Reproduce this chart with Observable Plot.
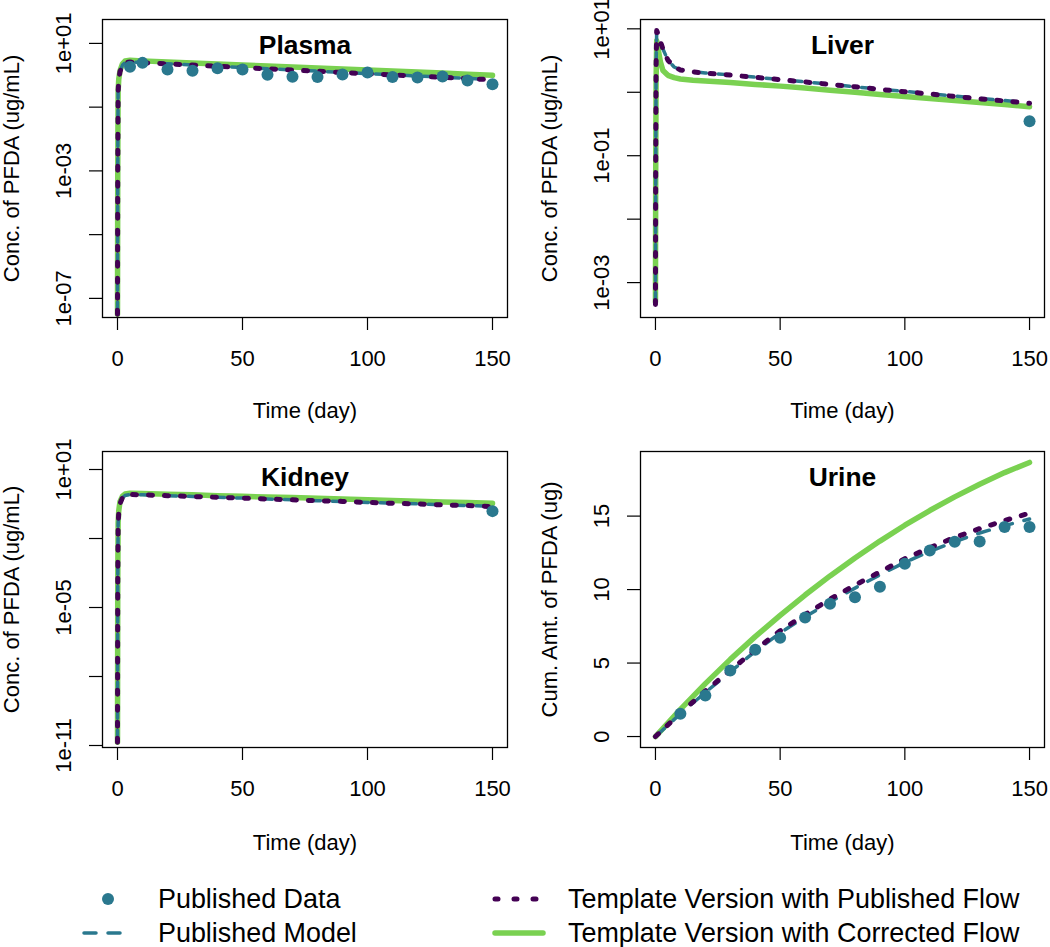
<!DOCTYPE html>
<html>
<head>
<meta charset="utf-8">
<script src="https://cdn.jsdelivr.net/npm/d3@7"></script>
<script src="https://cdn.jsdelivr.net/npm/@observablehq/plot@0.6"></script>
<style>
html, body { margin: 0; padding: 0; background: #fff; }
#wrap { position: relative; width: 1050px; height: 947px; background: #fff; font-family: "Liberation Sans", Arial, Helvetica, sans-serif; }
.panel { position: absolute; }
.panel svg { overflow: visible; }
#legend { position: absolute; left: 0; top: 860px; }
</style>
</head>
<body>
<div id="wrap"></div>
<script>
// ---------------- DATA ----------------
const xTicks = [0, 50, 100, 150];

// Plasma (ug/mL)
const plasmaTime = [0, 0.1, 0.25, 0.5, 1, 2, 3, 5, 10, 20, 30, 40, 50, 60, 70, 80, 90, 100, 110, 120, 130, 140, 150];
const plasmaPublishedModel = [3.2e-8, 1e-3, 0.3, 0.7, 1.3, 2.1, 2.5, 2.6, 2.5, 2.29, 2.1, 1.92, 1.76, 1.61, 1.47, 1.35, 1.23, 1.13, 1.04, 0.95, 0.87, 0.8, 0.73];
const plasmaPublishedFlow = [3.2e-8, 1e-3, 0.3, 0.7, 1.3, 2.1, 2.5, 2.6, 2.49, 2.28, 2.09, 1.91, 1.75, 1.6, 1.46, 1.34, 1.22, 1.12, 1.03, 0.94, 0.86, 0.79, 0.72];
const plasmaCorrectedFlow = [3.2e-8, 1e-3, 0.32, 0.75, 1.4, 2.3, 2.8, 2.95, 2.83, 2.63, 2.44, 2.27, 2.11, 1.96, 1.82, 1.69, 1.57, 1.46, 1.35, 1.26, 1.17, 1.08, 1.0];
const plasmaObsTime = [5, 10, 20, 30, 40, 50, 60, 70, 80, 90, 100, 110, 120, 130, 140, 150];
const plasmaObs = [1.85, 2.45, 1.52, 1.38, 1.66, 1.53, 1.03, 0.9, 0.89, 1.05, 1.22, 0.89, 0.85, 0.92, 0.68, 0.52];
const plasmaYTicks = [1e1, 1e-1, 1e-3, 1e-5, 1e-7];
const plasmaYLabelAt = [1e1, 1e-3, 1e-7];
const plasmaYLabels = ["1e+01", "1e-03", "1e-07"];

// Liver (ug/mL)
const liverTime = [0, 0.1, 0.25, 0.5, 1, 2, 3, 5, 7.5, 10, 15, 20, 30, 40, 50, 60, 70, 80, 90, 100, 110, 120, 130, 140, 150];
const liverPublishedModel = [4.5e-4, 0.05, 2.5, 9.4, 8.3, 6.3, 4.8, 3.2, 2.5, 2.26, 2.11, 2.01, 1.88, 1.73, 1.59, 1.46, 1.34, 1.22, 1.12, 1.03, 0.95, 0.87, 0.8, 0.74, 0.68];
const liverPublishedFlow = [4.5e-4, 0.05, 2.5, 9.4, 8.3, 6.3, 4.8, 3.2, 2.5, 2.25, 2.1, 2.0, 1.87, 1.72, 1.58, 1.45, 1.33, 1.22, 1.11, 1.02, 0.94, 0.86, 0.79, 0.73, 0.67];
const liverCorrectedFlow = [5e-4, 0.05, 1.5, 6.5, 5.0, 3.0, 2.2, 1.85, 1.7, 1.62, 1.55, 1.5, 1.42, 1.33, 1.25, 1.17, 1.08, 1.0, 0.92, 0.86, 0.8, 0.74, 0.69, 0.64, 0.59];
const liverObsTime = [150];
const liverObs = [0.35];
const liverYTicks = [1e1, 1e0, 1e-1, 1e-2, 1e-3];
const liverYLabelAt = [1e1, 1e-1, 1e-3];
const liverYLabels = ["1e+01", "1e-01", "1e-03"];

// Kidney (ug/mL)
const kidneyTime = [0, 0.1, 0.25, 0.5, 1, 2, 3, 5, 10, 20, 30, 40, 50, 60, 70, 80, 90, 100, 110, 120, 130, 140, 150];
const kidneyPublishedModel = [1.4e-11, 1e-4, 0.04, 0.13, 0.33, 0.6, 0.74, 0.82, 0.79, 0.73, 0.67, 0.62, 0.57, 0.52, 0.48, 0.44, 0.41, 0.37, 0.34, 0.32, 0.29, 0.27, 0.25];
const kidneyPublishedFlow = [1.4e-11, 1e-4, 0.04, 0.13, 0.33, 0.6, 0.74, 0.82, 0.79, 0.73, 0.67, 0.62, 0.57, 0.52, 0.48, 0.44, 0.41, 0.37, 0.34, 0.32, 0.29, 0.27, 0.245];
const kidneyCorrectedFlow = [1.4e-11, 1e-4, 0.05, 0.16, 0.4, 0.7, 0.86, 0.93, 0.9, 0.84, 0.79, 0.73, 0.68, 0.64, 0.6, 0.56, 0.52, 0.49, 0.45, 0.42, 0.39, 0.37, 0.34];
const kidneyObsTime = [150];
const kidneyObs = [0.155];
const kidneyYTicks = [1e1, 1e-2, 1e-5, 1e-8, 1e-11];
const kidneyYLabelAt = [1e1, 1e-5, 1e-11];
const kidneyYLabels = ["1e+01", "1e-05", "1e-11"];

// Urine (cumulative ug)
const urineTime = [0, 10, 20, 30, 40, 50, 60, 70, 80, 90, 100, 110, 120, 130, 140, 150];
const urinePublishedModel = [0, 1.55, 3.0, 4.4, 5.8, 7.05, 8.15, 9.15, 10.1, 11.0, 11.85, 12.6, 13.25, 13.85, 14.35, 14.8];
const urinePublishedFlow = [0, 1.6, 3.1, 4.5, 5.9, 7.2, 8.3, 9.35, 10.3, 11.2, 12.1, 12.85, 13.55, 14.15, 14.7, 15.2];
const urineCorrectedFlow = [0, 1.85, 3.6, 5.25, 6.8, 8.25, 9.63, 10.93, 12.15, 13.3, 14.38, 15.38, 16.31, 17.17, 17.96, 18.65];
const urineObsTime = [10, 20, 30, 40, 50, 60, 70, 80, 90, 100, 110, 120, 130, 140, 150];
const urineObs = [1.55, 2.8, 4.5, 5.91, 6.73, 8.1, 9.03, 9.48, 10.2, 11.75, 12.66, 13.26, 13.27, 14.26, 14.26];
const urineYTicks = [0, 5, 10, 15];
const urineYLabelAt = [0, 5, 10, 15];
const urineYLabels = ["0", "5", "10", "15"];

const legendLabels = ["Published Data", "Published Model", "Template Version with Published Flow", "Template Version with Corrected Flow"];

// ---------------- STYLE ----------------
const COL_DATA = "#2A788E";
const COL_FLOW = "#440154";
const COL_CORR = "#7AD151";
const FONT = "'Liberation Sans', Arial, Helvetica, sans-serif";
const FS = 22;

function zipT(t, v) { return t.map((d, i) => ({t: d, v: v[i]})); }

function makePanel(cfg) {
  const tickLabels = cfg.yLabelAt.map((v, i) => ({v, label: cfg.yLabels[i]}));
  const plot = Plot.plot({
    width: 525,
    height: 430,
    marginLeft: cfg.mL,
    marginRight: cfg.mR,
    marginTop: cfg.mT,
    marginBottom: cfg.mB,
    x: {domain: [-6, 156]},
    y: {type: cfg.yType, domain: cfg.yDomain},
    style: {fontFamily: FONT, fontSize: FS + "px", color: "#000", background: "transparent", overflow: "visible"},
    marks: [
      Plot.axisX({ticks: xTicks, tickSize: 13, tickFormat: () => "", label: null, strokeWidth: 1.2}),
      Plot.axisY({ticks: cfg.yTicks, tickSize: 13, tickFormat: () => "", label: null, strokeWidth: 1.2}),
      Plot.line(zipT(cfg.time, cfg.corrected), {x: "t", y: "v", stroke: COL_CORR, strokeWidth: 5.5, strokeLinecap: "round", strokeLinejoin: "round"}),
      Plot.line(zipT(cfg.time, cfg.model), {x: "t", y: "v", stroke: COL_DATA, strokeWidth: 3.5, strokeDasharray: "12,12", strokeLinecap: "round", strokeLinejoin: "round"}),
      Plot.line(zipT(cfg.time, cfg.flow), {x: "t", y: "v", stroke: COL_FLOW, strokeWidth: 5, strokeDasharray: "4,12", strokeLinecap: "round", strokeLinejoin: "round"}),
      Plot.dot(zipT(cfg.obsTime, cfg.obs), {x: "t", y: "v", r: 6, fill: COL_DATA, stroke: "none"}),
      Plot.frame({stroke: "#000", strokeWidth: 1.3}),
      Plot.text(xTicks, {x: d => d, text: d => String(d), frameAnchor: "bottom", dy: 41, fontSize: FS, lineAnchor: "middle", fill: "#000"}),
      Plot.text(tickLabels, {y: "v", text: "label", frameAnchor: "left", dx: -39, rotate: -90, fontSize: FS, textAnchor: "middle", lineAnchor: "middle", fill: "#000"}),
      Plot.text([cfg.title], {text: d => d, frameAnchor: "top", dy: 26, fontSize: 26.4, fontWeight: "bold", lineAnchor: "middle", fill: "#000"}),
      Plot.text(["Time (day)"], {text: d => d, frameAnchor: "bottom", dy: cfg.xTitleDy, fontSize: FS, lineAnchor: "middle", fill: "#000"}),
      Plot.text([cfg.yTitle], {text: d => d, frameAnchor: "left", dx: -91, rotate: -90, fontSize: FS, textAnchor: "middle", lineAnchor: "middle", fill: "#000"})
    ]
  });
  const div = document.createElement("div");
  div.className = "panel";
  div.style.left = cfg.left + "px";
  div.style.top = cfg.top + "px";
  div.appendChild(plot);
  document.getElementById("wrap").appendChild(div);
}

const concTitle = "Conc. of PFDA (ug/mL)";

makePanel({left: 0, top: 0, mL: 102, mR: 18, mT: 19, mB: 113, xTitleDy: 93,
  yType: "log", yDomain: [Math.pow(10, -7.6), Math.pow(10, 1.75)],
  yTicks: plasmaYTicks, yLabelAt: plasmaYLabelAt, yLabels: plasmaYLabels,
  title: "Plasma", yTitle: concTitle,
  time: plasmaTime, model: plasmaPublishedModel, flow: plasmaPublishedFlow, corrected: plasmaCorrectedFlow,
  obsTime: plasmaObsTime, obs: plasmaObs});

makePanel({left: 525, top: 0, mL: 115, mR: 6, mT: 19, mB: 113, xTitleDy: 93,
  yType: "log", yDomain: [Math.pow(10, -3.55), Math.pow(10, 1.147)],
  yTicks: liverYTicks, yLabelAt: liverYLabelAt, yLabels: liverYLabels,
  title: "Liver", yTitle: concTitle,
  time: liverTime, model: liverPublishedModel, flow: liverPublishedFlow, corrected: liverCorrectedFlow,
  obsTime: liverObsTime, obs: liverObs});

makePanel({left: 0, top: 430, mL: 102, mR: 18, mT: 21, mB: 113, xTitleDy: 95,
  yType: "log", yDomain: [Math.pow(10, -11.087), Math.pow(10, 1.783)],
  yTicks: kidneyYTicks, yLabelAt: kidneyYLabelAt, yLabels: kidneyYLabels,
  title: "Kidney", yTitle: concTitle,
  time: kidneyTime, model: kidneyPublishedModel, flow: kidneyPublishedFlow, corrected: kidneyCorrectedFlow,
  obsTime: kidneyObsTime, obs: kidneyObs});

makePanel({left: 525, top: 430, mL: 115, mR: 6, mT: 21, mB: 113, xTitleDy: 95,
  yType: "linear", yDomain: [-0.746, 19.396],
  yTicks: urineYTicks, yLabelAt: urineYLabelAt, yLabels: urineYLabels,
  title: "Urine", yTitle: "Cum. Amt. of PFDA (ug)",
  time: urineTime, model: urinePublishedModel, flow: urinePublishedFlow, corrected: urineCorrectedFlow,
  obsTime: urineObsTime, obs: urineObs});

// ---------------- LEGEND ----------------
(function () {
  const svg = d3.select("#wrap").append("svg")
    .attr("id", "legend").attr("width", 1050).attr("height", 87)
    .style("font-family", FONT);
  const items = [
    {x1: 84, x2: 132, y: 39, kind: "dot"},
    {x1: 84, x2: 132, y: 73, kind: "dash"},
    {x1: 495, x2: 543, y: 39, kind: "dot3"},
    {x1: 495, x2: 543, y: 73, kind: "solid"}
  ];
  const textX = [158, 158, 568, 568];
  items.forEach((it, i) => {
    if (it.kind === "dot") {
      svg.append("circle").attr("cx", (it.x1 + it.x2) / 2).attr("cy", it.y).attr("r", 6).attr("fill", COL_DATA);
    } else {
      const line = svg.append("line").attr("x1", it.x1).attr("x2", it.x2).attr("y1", it.y).attr("y2", it.y)
        .attr("stroke-linecap", "round");
      if (it.kind === "dash") line.attr("stroke", COL_DATA).attr("stroke-width", 3.5).attr("stroke-dasharray", "12,12");
      if (it.kind === "dot3") line.attr("stroke", COL_FLOW).attr("stroke-width", 5).attr("stroke-dasharray", "3,16");
      if (it.kind === "solid") line.attr("stroke", COL_CORR).attr("stroke-width", 5.5);
    }
    svg.append("text").attr("x", textX[i]).attr("y", it.y).attr("dy", "0.35em")
      .attr("font-size", 26.9).attr("fill", "#000").text(legendLabels[i]);
  });
})();
</script>
</body>
</html>
